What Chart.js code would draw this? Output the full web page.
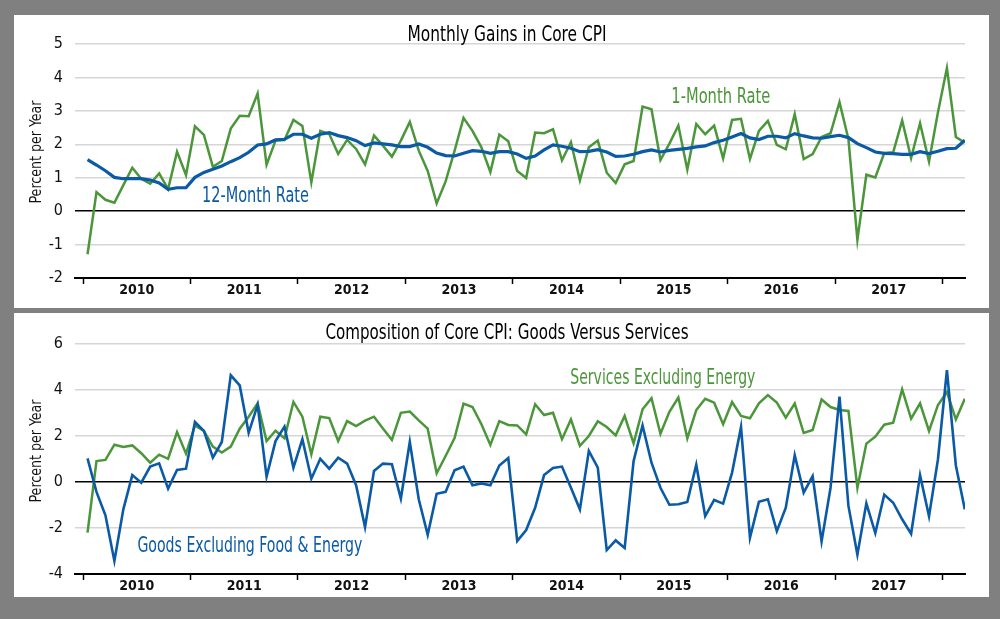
<!DOCTYPE html>
<html>
<head>
<meta charset="utf-8">
<script src="https://cdn.jsdelivr.net/npm/chart.js@4.4.1/dist/chart.umd.min.js"></script>
<style>
  body { margin: 0; background: #808080; width: 1000px; height: 619px; overflow: hidden; position: relative; }
  .panel { position: absolute; left: 14px; width: 975px; background: #fff; }
  #topPanel { top: 15px; height: 293px; }
  #bottomPanel { top: 313px; height: 284px; }
</style>
</head>
<body>
<div class="panel" id="topPanel"><canvas id="topChart" width="975" height="293"></canvas></div>
<div class="panel" id="bottomPanel"><canvas id="bottomChart" width="975" height="284"></canvas></div>
<script>
/*---------------------
~~~~~~~ Data ~~~~~~~~
---------------------*/
// monthly observations, Jan 2010 .. Mar 2018
const startYear = 2010;
const yearLabels = ['2010', '2011', '2012', '2013', '2014', '2015', '2016', '2017'];

const oneMonthRate = [
  -1.29, 0.57, 0.34, 0.25, 0.78, 1.30, 0.97, 0.82, 1.13, 0.66, 1.78, 1.08,
  2.54, 2.28, 1.33, 1.50, 2.47, 2.85, 2.84, 3.52, 1.39, 2.11, 2.13, 2.73,
  2.55, 0.86, 2.40, 2.31, 1.71, 2.13, 1.86, 1.40, 2.26, 1.96, 1.63, 2.11,
  2.67, 1.81, 1.20, 0.23, 0.89, 1.80, 2.79, 2.40, 1.91, 1.17, 2.29, 2.09,
  1.20, 0.99, 2.35, 2.33, 2.45, 1.52, 2.06, 0.92, 1.91, 2.11, 1.15, 0.84,
  1.40, 1.50, 3.13, 3.05, 1.53, 2.02, 2.56, 1.24, 2.61, 2.30, 2.56, 1.58,
  2.73, 2.76, 1.56, 2.40, 2.70, 1.98, 1.85, 2.90, 1.56, 1.71, 2.22, 2.33,
  3.26, 2.15, -0.86, 1.09, 1.01, 1.74, 1.76, 2.71, 1.59, 2.63, 1.48, 2.96,
  4.28, 2.22, 2.05
];
const twelveMonthRate = [
  1.54, 1.38, 1.21, 1.01, 0.97, 0.97, 0.97, 0.93, 0.84, 0.65, 0.70, 0.70,
  1.01, 1.16, 1.25, 1.35, 1.48, 1.60, 1.76, 1.98, 2.01, 2.13, 2.15, 2.30,
  2.30, 2.18, 2.30, 2.35, 2.26, 2.20, 2.11, 1.96, 2.04, 2.01, 1.98, 1.93,
  1.93, 2.01, 1.91, 1.74, 1.66, 1.65, 1.73, 1.81, 1.79, 1.73, 1.78, 1.78,
  1.71, 1.58, 1.65, 1.83, 1.98, 1.94, 1.88, 1.78, 1.79, 1.84, 1.77, 1.64,
  1.65, 1.70, 1.78, 1.83, 1.77, 1.82, 1.85, 1.88, 1.92, 1.95, 2.05, 2.12,
  2.22, 2.32, 2.19, 2.14, 2.24, 2.24, 2.19, 2.32, 2.25, 2.19, 2.18, 2.23,
  2.27, 2.20, 2.02, 1.90, 1.77, 1.73, 1.72, 1.70, 1.70, 1.78, 1.72, 1.79,
  1.87, 1.88, 2.12
];
const servicesExEnergy = [
  -2.20, 0.91, 0.96, 1.62, 1.52, 1.59, 1.25, 0.84, 1.19, 1.01, 2.17, 1.23,
  2.46, 2.22, 1.54, 1.28, 1.54, 2.32, 2.84, 3.42, 1.78, 2.23, 1.90, 3.48,
  2.84, 1.20, 2.84, 2.78, 1.78, 2.65, 2.43, 2.67, 2.84, 2.33, 1.83, 3.01,
  3.06, 2.68, 2.32, 0.38, 1.13, 1.91, 3.41, 3.26, 2.51, 1.61, 2.65, 2.48,
  2.46, 2.07, 3.38, 2.91, 3.01, 1.86, 2.72, 1.57, 2.00, 2.64, 2.39, 2.03,
  2.87, 1.68, 3.16, 3.64, 2.10, 3.05, 3.67, 1.90, 3.13, 3.62, 3.45, 2.51,
  3.48, 2.87, 2.77, 3.42, 3.78, 3.45, 2.80, 3.41, 2.13, 2.26, 3.59, 3.26,
  3.13, 3.09, -0.25, 1.67, 1.97, 2.49, 2.58, 4.03, 2.75, 3.42, 2.22, 3.35,
  3.91, 2.72, 3.62
];
const goodsExFoodEnergy = [
  1.03, -0.43, -1.45, -3.43, -1.19, 0.30, -0.03, 0.67, 0.81, -0.29, 0.52, 0.58,
  2.61, 2.22, 1.06, 1.74, 4.64, 4.20, 2.14, 3.35, 0.23, 1.78, 2.41, 0.62,
  1.86, 0.14, 1.01, 0.58, 1.06, 0.80, -0.14, -1.96, 0.48, 0.80, 0.77, -0.72,
  1.74, -0.75, -2.30, -0.51, -0.43, 0.51, 0.67, -0.14, -0.06, -0.14, 0.72, 1.04,
  -2.57, -2.09, -1.12, 0.30, 0.61, 0.67, -0.25, -1.19, 1.35, 0.62, -2.96, -2.54,
  -2.87, 0.91, 2.46, 0.84, -0.25, -0.99, -0.97, -0.87, 0.75, -1.48, -0.78, -0.94,
  0.41, 2.39, -2.42, -0.86, -0.75, -2.14, -1.12, 1.16, -0.46, 0.26, -2.58, -0.25,
  3.71, -1.04, -3.16, -0.93, -2.22, -0.55, -0.90, -1.62, -2.25, 0.30, -1.49, 0.99,
  4.86, 0.72, -1.19
];

/*---------------------
~~~~~~~ Styling ~~~~~~
---------------------*/
const FONT = '"DejaVu Sans Condensed", "Liberation Sans", sans-serif';
const GREEN = '#4b963a';
const BLUE = '#0a5aa5';
Chart.defaults.font.family = FONT;
Chart.defaults.color = '#111';

function toPoints(values) {
  return values.map((v, i) => ({ x: startYear + (i + 0.5) / 12, y: v }));
}

// year boundaries get a tick mark, mid-years carry the label
function yearTicks() {
  const ticks = [];
  for (let i = 0; i <= yearLabels.length; i++) {
    ticks.push({ value: startYear + i });
    if (i < yearLabels.length) ticks.push({ value: startYear + i + 0.5 });
  }
  return ticks;
}

// titles, axis title and series names; squeezed to the narrow face of the original
const panelText = {
  id: 'panelText',
  afterDraw(chart) {
    const items = chart.config.options.panelText || [];
    const ctx = chart.ctx;
    const { x: xs, y: ys } = chart.scales;
    items.forEach(item => {
      let px = item.px, py = item.py;
      if (item.dataX !== undefined) {
        px = xs.getPixelForValue(item.dataX);
        py = ys.getPixelForValue(item.dataY);
      }
      ctx.save();
      ctx.font = item.size + 'px ' + FONT;
      ctx.fillStyle = item.color || '#000';
      ctx.textAlign = item.align || 'left';
      ctx.textBaseline = item.baseline || 'alphabetic';
      ctx.translate(px, py);
      if (item.rotate) ctx.rotate(item.rotate);
      ctx.fillText(item.text, 0, 0, item.width);
      ctx.restore();
    });
  }
};

function makeChart(canvasId, cfg) {
  return new Chart(document.getElementById(canvasId), {
    type: 'line',
    data: { datasets: cfg.datasets },
    plugins: [panelText],
    options: {
      responsive: false,
      animation: false,
      panelText: cfg.text,
      layout: { padding: { left: 0, right: 24, top: cfg.top, bottom: 0 } },
      elements: { point: { radius: 0 }, line: { tension: 0, borderJoinStyle: 'miter' } },
      plugins: {
        legend: { display: false },
        tooltip: { enabled: false },
        title: { display: false }
      },
      scales: {
        x: {
          type: 'linear',
          min: 2009.925,
          max: 2018.21,
          afterBuildTicks: s => { s.ticks = yearTicks(); },
          afterFit: s => { s.height = cfg.xHeight; },
          ticks: {
            autoSkip: false,
            maxRotation: 0,
            padding: -2,
            font: { size: 14, weight: 'bold' },
            color: '#111',
            callback: v => (v % 1 !== 0 ? String(Math.floor(v)) : '')
          },
          grid: {
            drawOnChartArea: false,
            drawTicks: true,
            tickLength: 6,
            tickWidth: 1.5,
            tickColor: c => (c.tick && c.tick.value % 1 === 0 ? '#000' : 'rgba(0,0,0,0)')
          },
          border: { display: true, color: '#000', width: 2 }
        },
        y: {
          min: cfg.yMin,
          max: cfg.yMax,
          afterFit: s => { s.width = 61; },
          ticks: { stepSize: cfg.yStep, padding: 12, font: { size: 16 }, color: '#111' },
          grid: {
            drawTicks: false,
            lineWidth: 1.5,
            color: c => (c.tick && c.tick.value === 0 ? '#000' : '#d6d6d6')
          },
          border: { display: false }
        }
      }
    }
  });
}

/*---------------------
~~~~~~~ Charts ~~~~~~~
---------------------*/
makeChart('topChart', {
  top: 29,
  xHeight: 30,
  yMin: -2, yMax: 5, yStep: 1,
  datasets: [
    { label: '12-Month Rate', data: toPoints(twelveMonthRate), borderColor: BLUE, borderWidth: 3.2 },
    { label: '1-Month Rate', data: toPoints(oneMonthRate), borderColor: GREEN, borderWidth: 2.5 }
  ],
  text: [
    { text: 'Monthly Gains in Core CPI', px: 493, py: 26, size: 21, width: 199, align: 'center' },
    { text: 'Percent per Year', px: 23, py: 137, size: 16, width: 103, align: 'center', baseline: 'middle', rotate: -Math.PI / 2, color: '#111' },
    { text: '1-Month Rate', dataX: 2015.476, dataY: 3.23, size: 21, width: 99, color: GREEN },
    { text: '12-Month Rate', dataX: 2011.107, dataY: 0.28, size: 21, width: 107, color: BLUE }
  ]
});

makeChart('bottomChart', {
  top: 31,
  xHeight: 23,
  yMin: -4, yMax: 6, yStep: 2,
  datasets: [
    { label: 'Goods Excluding Food & Energy', data: toPoints(goodsExFoodEnergy), borderColor: BLUE, borderWidth: 2.6 },
    { label: 'Services Excluding Energy', data: toPoints(servicesExEnergy), borderColor: GREEN, borderWidth: 2.5 }
  ],
  text: [
    { text: 'Composition of Core CPI: Goods Versus Services', px: 493, py: 26, size: 21, width: 363, align: 'center' },
    { text: 'Percent per Year', px: 23, py: 138, size: 16, width: 103, align: 'center', baseline: 'middle', rotate: -Math.PI / 2, color: '#111' },
    { text: 'Services Excluding Energy', dataX: 2014.536, dataY: 4.26, size: 21, width: 185, color: GREEN },
    { text: 'Goods Excluding Food & Energy', dataX: 2010.506, dataY: -3.04, size: 21, width: 225, color: BLUE }
  ]
});
</script>
</body>
</html>
